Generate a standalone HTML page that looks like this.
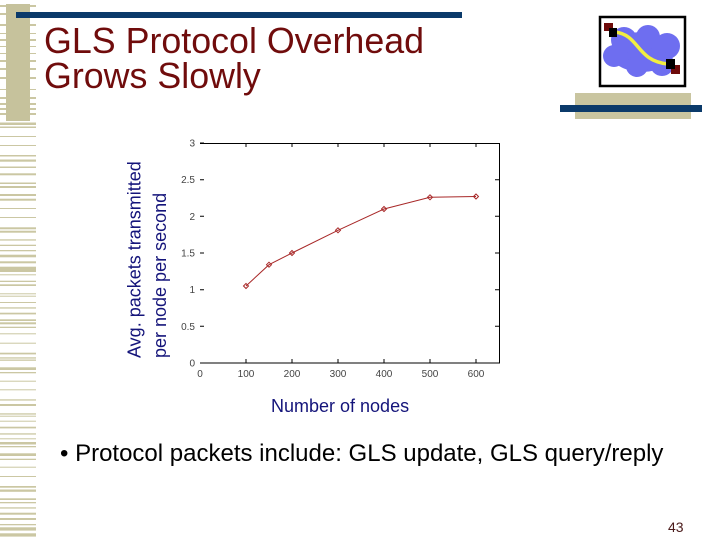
<!DOCTYPE html>
<html><head><meta charset="utf-8"><style>
html,body{margin:0;padding:0;background:#fff;}
svg{display:block;}
</style></head><body>
<svg width="720" height="540" viewBox="0 0 720 540" xmlns="http://www.w3.org/2000/svg" font-family="Liberation Sans, Arial, sans-serif">
<rect width="720" height="540" fill="#ffffff"/>
<!-- left stripes -->
<g fill="#cbc7a3">
<rect x="0" y="5" width="36" height="2"/><rect x="0" y="13" width="36" height="2"/><rect x="0" y="24" width="36" height="2"/><rect x="0" y="33" width="36" height="1"/><rect x="0" y="39" width="36" height="2"/><rect x="0" y="46" width="36" height="1"/><rect x="0" y="53" width="36" height="1"/><rect x="0" y="60" width="36" height="2"/><rect x="0" y="68" width="36" height="2"/><rect x="0" y="77" width="36" height="2"/><rect x="0" y="89" width="36" height="1"/><rect x="0" y="97" width="36" height="2"/><rect x="0" y="103" width="36" height="2"/><rect x="0" y="108" width="36" height="2"/><rect x="0" y="113" width="36" height="2"/>
<rect x="0" y="122.5" width="36" height="2.5"/><rect x="0" y="126.5" width="36" height="1.5"/><rect x="0" y="136" width="36" height="1"/><rect x="0" y="145" width="36" height="1"/><rect x="0" y="155" width="36" height="1.5"/><rect x="0" y="159.5" width="36" height="2.2"/><rect x="0" y="166.5" width="36" height="1.5"/><rect x="0" y="173.3" width="36" height="2"/><rect x="0" y="182.5" width="36" height="1.5"/><rect x="0" y="186" width="36" height="2"/><rect x="0" y="194" width="36" height="2"/><rect x="0" y="198.7" width="36" height="2"/><rect x="0" y="208" width="36" height="1"/><rect x="0" y="217" width="36" height="1"/><rect x="0" y="227.3" width="36" height="2"/><rect x="0" y="230.7" width="36" height="2"/><rect x="0" y="239.3" width="36" height="1.3"/><rect x="0" y="244.7" width="36" height="1.3"/><rect x="0" y="250" width="36" height="1.3"/><rect x="0" y="254.7" width="36" height="2.6"/><rect x="0" y="261.3" width="36" height="2"/><rect x="0" y="266.7" width="36" height="3.3"/>
<rect x="0" y="270" width="36" height="2"/><rect x="0" y="274.3" width="36" height="1"/><rect x="0" y="280.7" width="36" height="1.3"/><rect x="0" y="284.3" width="36" height="1.7"/><rect x="0" y="293.3" width="36" height="1"/><rect x="0" y="295.7" width="36" height="1"/><rect x="0" y="302" width="36" height="1"/><rect x="0" y="307.3" width="36" height="1.3"/><rect x="0" y="312.7" width="36" height="1.7"/><rect x="0" y="319.3" width="36" height="1.7"/><rect x="0" y="322.3" width="36" height="2"/><rect x="0" y="326.7" width="36" height="1.3"/><rect x="0" y="333.3" width="36" height="1"/><rect x="0" y="342.7" width="36" height="1"/><rect x="0" y="352.7" width="36" height="1.7"/><rect x="0" y="357.3" width="36" height="1.3"/><rect x="0" y="359.5" width="36" height="1.3"/><rect x="0" y="367.3" width="36" height="2.7"/><rect x="0" y="372" width="36" height="1.3"/><rect x="0" y="380.7" width="36" height="1"/><rect x="0" y="389.3" width="36" height="1"/><rect x="0" y="399.3" width="36" height="1.3"/><rect x="0" y="404" width="36" height="2"/><rect x="0" y="413.3" width="36" height="1.3"/><rect x="0" y="415.7" width="36" height="1"/><rect x="0" y="420.7" width="36" height="1"/><rect x="0" y="426.7" width="36" height="1.7"/><rect x="0" y="433.3" width="36" height="1.3"/><rect x="0" y="438.3" width="36" height="1"/><rect x="0" y="442" width="36" height="2.5"/><rect x="0" y="446" width="36" height="1.3"/><rect x="0" y="453.3" width="36" height="2.7"/><rect x="0" y="458.7" width="36" height="1.3"/><rect x="0" y="466.7" width="36" height="1"/><rect x="0" y="476" width="36" height="1"/><rect x="0" y="486" width="36" height="1.7"/><rect x="0" y="489.5" width="36" height="2.3"/><rect x="0" y="498.3" width="36" height="1.7"/><rect x="0" y="502" width="36" height="1.3"/><rect x="0" y="507.3" width="36" height="1.3"/><rect x="0" y="512.7" width="36" height="2"/><rect x="0" y="518" width="36" height="2"/><rect x="0" y="524" width="36" height="1.3"/><rect x="0" y="527.3" width="36" height="3.3"/><rect x="0" y="533.3" width="36" height="3.3"/>
</g>
<!-- vertical tan bar -->
<rect x="6" y="4" width="24" height="117" fill="#c6c29c"/>
<!-- top navy bar -->
<rect x="16" y="12" width="446" height="6" fill="#0b3a6a"/>
<!-- right deco -->
<rect x="575" y="93" width="116" height="26" fill="#c9c5a0"/>
<rect x="560" y="105" width="142" height="7" fill="#0b3a6a"/>
<!-- logo -->
<rect x="600" y="17" width="85" height="69" fill="#fff" stroke="#000" stroke-width="2.5"/>
<g fill="#6e6ef0">
<ellipse cx="642" cy="52" rx="32" ry="20"/>
<circle cx="624" cy="40" r="13"/>
<circle cx="648" cy="37" r="12"/>
<circle cx="667" cy="46" r="13"/>
<circle cx="662" cy="64" r="12"/>
<circle cx="637" cy="66" r="11"/>
<circle cx="614" cy="56" r="11"/>
</g>
<path d="M615,32 C640,35 636,61 668,64" fill="none" stroke="#f2ee40" stroke-width="3.5"/>
<rect x="604" y="23" width="9" height="8" fill="#6e0a0a"/>
<rect x="609" y="28" width="8" height="9" fill="#000"/>
<rect x="671" y="65" width="9" height="9" fill="#6e0a0a"/>
<rect x="666" y="59" width="9" height="10" fill="#000"/>
<!-- title -->
<g fill="#700c0c" font-size="35.8">
<text x="44" y="53">GLS Protocol Overhead</text>
<text x="44" y="88">Grows Slowly</text>
</g>
<!-- plot frame -->
<g stroke="#000" stroke-width="1" fill="none">
<path d="M200,143.5 H499.5 V363 H200"/>
<path d="M200,363 h4 M200,326.3 h4 M200,289.7 h4 M200,253 h4 M200,216.3 h4 M200,179.7 h4 M200,143 h4"/>
<path d="M499,326.3 h-4 M499,289.7 h-4 M499,253 h-4 M499,216.3 h-4 M499,179.7 h-4"/>
<path d="M246,363 v-4 M292,363 v-4 M338,363 v-4 M384,363 v-4 M430,363 v-4 M476,363 v-4"/>
<path d="M246,143 v4 M292,143 v4 M338,143 v4 M384,143 v4 M430,143 v4 M476,143 v4"/>
</g>
<!-- tick labels -->
<g font-size="10" fill="#444" text-anchor="end">
<text x="195" y="366.5">0</text>
<text x="195" y="329.8">0.5</text>
<text x="195" y="293.2">1</text>
<text x="195" y="256.5">1.5</text>
<text x="195" y="219.8">2</text>
<text x="195" y="183.2">2.5</text>
<text x="195" y="146.5">3</text>
</g>
<g font-size="10" fill="#444" text-anchor="middle">
<text x="200" y="377">0</text>
<text x="246" y="377">100</text>
<text x="292" y="377">200</text>
<text x="338" y="377">300</text>
<text x="384" y="377">400</text>
<text x="430" y="377">500</text>
<text x="476" y="377">600</text>
</g>
<!-- series -->
<polyline points="246,286 269,264.7 292,253 338,230.3 384,209 430,197.3 476,196.5" fill="none" stroke="#a82828" stroke-width="1"/>
<g fill="none" stroke="#a82828" stroke-width="1">
<path d="M246,283.5 l2.5,2.5 l-2.5,2.5 l-2.5,-2.5z"/>
<path d="M269,262.2 l2.5,2.5 l-2.5,2.5 l-2.5,-2.5z"/>
<path d="M292,250.5 l2.5,2.5 l-2.5,2.5 l-2.5,-2.5z"/>
<path d="M338,227.8 l2.5,2.5 l-2.5,2.5 l-2.5,-2.5z"/>
<path d="M384,206.5 l2.5,2.5 l-2.5,2.5 l-2.5,-2.5z"/>
<path d="M430,194.8 l2.5,2.5 l-2.5,2.5 l-2.5,-2.5z"/>
<path d="M476,194 l2.5,2.5 l-2.5,2.5 l-2.5,-2.5z"/>
</g>
<!-- axis labels -->
<g fill="#14147a" font-size="18">
<text transform="translate(140.5,358) rotate(-90)">Avg. packets transmitted</text>
<text transform="translate(166,358) rotate(-90)">per node per second</text>
<text x="271" y="412">Number of nodes</text>
</g>
<!-- bullet text -->
<text x="60" y="461" font-size="24" fill="#000">• Protocol packets include: GLS update, GLS query/reply</text>
<text x="668" y="532" font-size="14" fill="#4a1a1a">43</text>
</svg>
</body></html>
